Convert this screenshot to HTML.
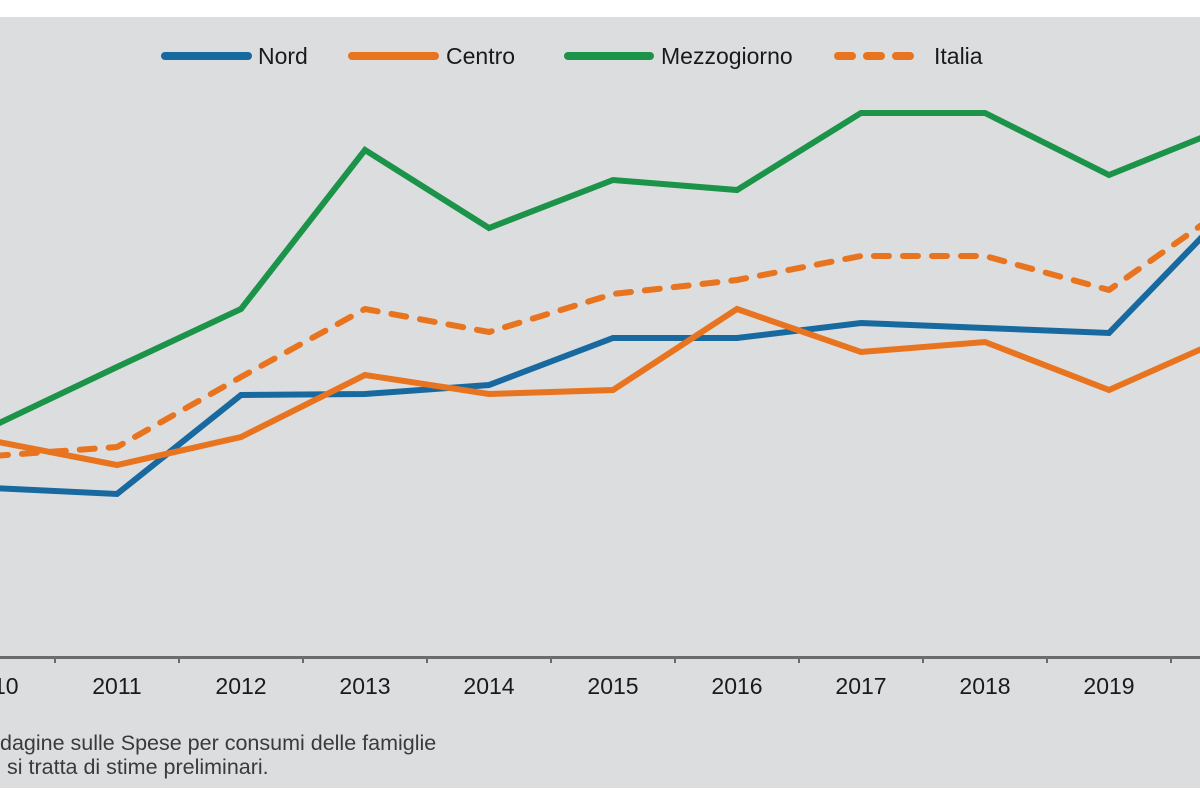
<!DOCTYPE html>
<html>
<head>
<meta charset="utf-8">
<style>
  html, body { margin: 0; padding: 0; background: #ffffff; }
  body { width: 1200px; height: 799px; overflow: hidden; }
  svg { display: block; }
  text { font-family: "Liberation Sans", Arial, sans-serif; }
</style>
</head>
<body>
<svg width="1200" height="799" viewBox="0 0 1200 799" xmlns="http://www.w3.org/2000/svg">
  <rect x="0" y="0" width="1200" height="799" fill="#ffffff"/>
  <rect x="0" y="17" width="1200" height="771" fill="#dcddde"/>

  <!-- Legend -->
  <g stroke-linecap="round" stroke-width="8" fill="none">
    <line x1="165" y1="56" x2="248" y2="56" stroke="#17699f"/>
    <line x1="352" y1="56" x2="435" y2="56" stroke="#e8741f"/>
    <line x1="568" y1="56" x2="650" y2="56" stroke="#1b9449"/>
    <line x1="838" y1="56" x2="918" y2="56" stroke="#e8741f" stroke-dasharray="14 15"/>
  </g>
  <g font-size="23" fill="#1a1a1a">
    <text x="258" y="64">Nord</text>
    <text x="446" y="64">Centro</text>
    <text x="661" y="64">Mezzogiorno</text>
    <text x="934" y="64">Italia</text>
  </g>

  <!-- Axis -->
  <line x1="0" y1="657.5" x2="1200" y2="657.5" stroke="#6b6b6b" stroke-width="3"/>
  <g stroke="#6b6b6b" stroke-width="2">
    <line x1="55" y1="657" x2="55" y2="663"/>
    <line x1="179" y1="657" x2="179" y2="663"/>
    <line x1="303" y1="657" x2="303" y2="663"/>
    <line x1="427" y1="657" x2="427" y2="663"/>
    <line x1="551" y1="657" x2="551" y2="663"/>
    <line x1="675" y1="657" x2="675" y2="663"/>
    <line x1="799" y1="657" x2="799" y2="663"/>
    <line x1="923" y1="657" x2="923" y2="663"/>
    <line x1="1047" y1="657" x2="1047" y2="663"/>
    <line x1="1171" y1="657" x2="1171" y2="663"/>
  </g>
  <g font-size="23" fill="#1a1a1a" text-anchor="middle">
    <text x="-7" y="694">2010</text>
    <text x="117" y="694">2011</text>
    <text x="241" y="694">2012</text>
    <text x="365" y="694">2013</text>
    <text x="489" y="694">2014</text>
    <text x="613" y="694">2015</text>
    <text x="737" y="694">2016</text>
    <text x="861" y="694">2017</text>
    <text x="985" y="694">2018</text>
    <text x="1109" y="694">2019</text>
    <text x="1233" y="694">2020</text>
  </g>

  <!-- Series -->
  <g fill="none" stroke-width="6" stroke-linejoin="miter">
    <polyline stroke="#17699f" points="-7,488 117,494 241,395 365,394 489,385 613,338 737,338 861,323 985,328 1109,333 1233,205"/>
    <polyline stroke="#e8741f" points="-7,441 117,465 241,437 365,375 489,394 613,390 737,309 861,352 985,342 1109,390 1233,335"/>
    <polyline stroke="#1b9449" points="-7,426 117,367 241,309 365,150 489,228 613,180 737,190 861,113 985,113 1109,175 1233,125"/>
    <polyline stroke="#e8741f" stroke-dasharray="15 14" stroke-linecap="round" stroke-linejoin="round" points="-7,456 117,447 241,377 365,309 489,332 613,294 737,280 861,256 985,256 1109,290 1233,203"/>
  </g>

  <!-- Footnote -->
  <g font-size="21.5" fill="#3a3a3a">
    <text x="0" y="750">dagine sulle Spese per consumi delle famiglie</text>
    <text x="7" y="774">si tratta di stime preliminari.</text>
  </g>
</svg>
</body>
</html>
